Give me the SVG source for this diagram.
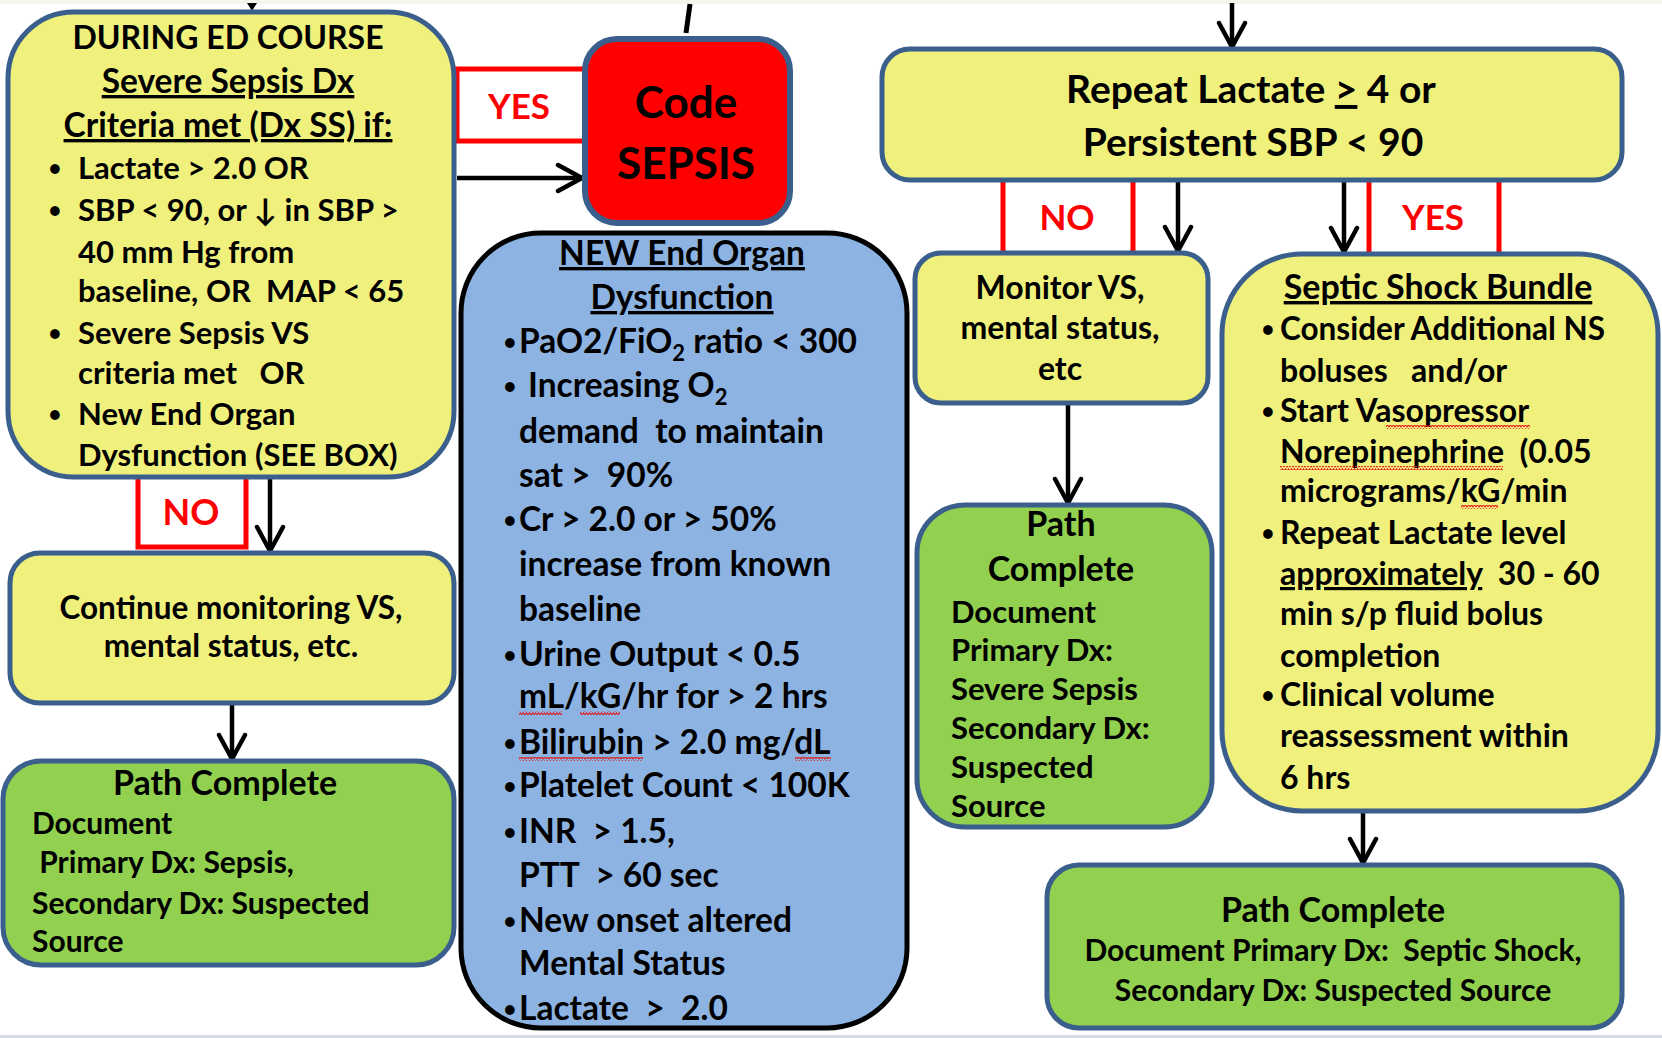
<svg xmlns="http://www.w3.org/2000/svg" width="1662" height="1038" viewBox="0 0 1662 1038" xml:space="preserve">
<defs>
<style>
.y{fill:#f0f17d;stroke:#3a5f8c;stroke-width:5}
.g{fill:#92d050;stroke:#3a5f8c;stroke-width:5}
.b{fill:#8db3e2;stroke:#000;stroke-width:5}
.r{fill:#ff0000;stroke:#3a5f8c;stroke-width:6}
.t{font-family:Lato,"Open Sans","Liberation Sans",sans-serif;font-weight:700;font-size:31px;fill:#000;white-space:pre}
.m{text-anchor:middle}
.u{text-decoration:underline}
.bl{font-size:22px;text-anchor:middle}
.lbl{font-family:Lato,"Open Sans","Liberation Sans",sans-serif;font-weight:700;font-size:35px;fill:#ff0000;text-anchor:middle}
.red{stroke:#ff0000;stroke-width:5;fill:none}
.ar{stroke:#000;stroke-width:4.5;fill:none;marker-end:url(#ah)}
.wv{fill:url(#wave)}
.f33{font-size:33.5px}
.f32{font-size:32px}
.f30{font-size:30px}
.f34{font-size:34px}
</style>
<marker id="ah" markerUnits="userSpaceOnUse" viewBox="0 0 30 32" refX="27" refY="16" markerWidth="30" markerHeight="32" orient="auto">
<path d="M3,3 L27,16 L3,29" fill="none" stroke="#000" stroke-width="4.5" stroke-linecap="round" stroke-linejoin="round"/>
</marker>
<pattern id="wave" patternUnits="userSpaceOnUse" width="6" height="4">
<path d="M0,3 L1.5,0.8 L3,3 L4.5,0.8 L6,3" fill="none" stroke="#e02020" stroke-width="1.1"/>
</pattern>
</defs>
<rect x="0" y="0" width="1662" height="1038" fill="#ffffff"/>
<rect x="0" y="0" width="1662" height="4" fill="#f3f8ee"/>
<rect x="0" y="1035" width="1662" height="3" fill="#d3dce8"/>

<g id="connectors">
<path d="M247,3 L257,3 L252,11 Z" fill="#000"/>
<line x1="690" y1="4" x2="686" y2="33" stroke="#000" stroke-width="5"/>
<rect x="457" y="69" width="135" height="72" class="red" fill="#fff"/>
<line x1="457" y1="178" x2="582" y2="178" class="ar"/>
<path d="M138,477 V547 H246 V477" class="red"/>
<line x1="270" y1="477" x2="270" y2="551" class="ar"/>
<line x1="232" y1="703" x2="232" y2="759" class="ar"/>
<line x1="1232" y1="3" x2="1232" y2="47" class="ar"/>
<line x1="1003" y1="180" x2="1003" y2="253" class="red"/>
<line x1="1133" y1="180" x2="1133" y2="253" class="red"/>
<line x1="1178" y1="180" x2="1178" y2="251" class="ar"/>
<line x1="1344" y1="180" x2="1344" y2="252" class="ar"/>
<line x1="1369" y1="180" x2="1369" y2="254" class="red"/>
<line x1="1499" y1="180" x2="1499" y2="254" class="red"/>
<line x1="1068" y1="403" x2="1068" y2="503" class="ar"/>
<line x1="1363" y1="811" x2="1363" y2="863" class="ar"/>
<text class="lbl" x="519" y="119">YES</text>
<text class="lbl" x="191" y="525" style="font-size:36px">NO</text>
<text class="lbl" x="1067" y="230">NO</text>
<text class="lbl" x="1433" y="230">YES</text>
</g>

<g id="during-ed">
<rect x="8" y="12" width="446" height="465" rx="66" class="y"/>
<text class="t m f32" x="228" y="49">DURING ED COURSE</text>
<text class="t m u f33" x="228" y="93">Severe Sepsis Dx</text>
<text class="t m u f33" x="228" y="137">Criteria met (Dx SS) if:</text>
<text class="t bl" x="55" y="176">•</text><text class="t" x="78" y="179">Lactate &gt; 2.0 OR</text>
<text class="t bl" x="55" y="218">•</text><text class="t" x="78" y="221">SBP &lt; 90, or ↓ in SBP &gt;</text>
<text class="t" x="78" y="263">40 mm Hg from</text>
<text class="t" x="78" y="302">baseline, OR  MAP &lt; 65</text>
<text class="t bl" x="55" y="341">•</text><text class="t" x="78" y="344">Severe Sepsis VS</text>
<text class="t" x="78" y="384">criteria met   OR</text>
<text class="t bl" x="55" y="422">•</text><text class="t" x="78" y="425">New End Organ</text>
<text class="t" x="78" y="466">Dysfunction (SEE BOX)</text>
</g>

<g id="code-sepsis">
<rect x="585" y="39" width="205" height="184" rx="32" class="r"/>
<text class="t m" x="686" y="118" style="font-size:44px">Code</text>
<text class="t m" x="686" y="179" style="font-size:44px">SEPSIS</text>
</g>

<g id="end-organ">
<rect x="461" y="233" width="446" height="795" rx="80" class="b"/>
<text class="t m u f33" x="682" y="265">NEW End Organ</text>
<text class="t m u f33" x="682" y="309">Dysfunction</text>
<text class="t bl" x="510" y="350">•</text><text class="t f33" x="519" y="353">PaO2/FiO<tspan dy="8" style="font-size:22px">2</tspan><tspan dy="-8"> ratio &lt; 300</tspan></text>
<text class="t bl" x="510" y="394">•</text><text class="t f33" x="528" y="397">Increasing O<tspan dy="8" style="font-size:22px">2</tspan></text>
<text class="t f33" x="519" y="443">demand  to maintain</text>
<text class="t f33" x="519" y="487">sat &gt;  90%</text>
<text class="t bl" x="510" y="528">•</text><text class="t f33" x="519" y="531">Cr &gt; 2.0 or &gt; 50%</text>
<text class="t f33" x="519" y="576">increase from known</text>
<text class="t f33" x="519" y="621">baseline</text>
<text class="t bl" x="510" y="663">•</text><text class="t f33" x="519" y="666">Urine Output &lt; 0.5</text>
<text class="t f33" x="519" y="708">mL/kG/hr for &gt; 2 hrs</text>
<text class="t bl" x="510" y="751">•</text><text class="t f33" x="519" y="754">Bilirubin &gt; 2.0 mg/dL</text>
<text class="t bl" x="510" y="794">•</text><text class="t f33" x="519" y="797">Platelet Count &lt; 100K</text>
<text class="t bl" x="510" y="840">•</text><text class="t f33" x="519" y="843">INR  &gt; 1.5,</text>
<text class="t f33" x="519" y="887">PTT  &gt; 60 sec</text>
<text class="t bl" x="510" y="929">•</text><text class="t f33" x="519" y="932">New onset altered</text>
<text class="t f33" x="519" y="975">Mental Status</text>
<text class="t bl" x="510" y="1017">•</text><text class="t f33" x="519" y="1020">Lactate  &gt;  2.0</text>
<rect class="wv" x="519" y="711" width="43" height="4"/>
<rect class="wv" x="580" y="711" width="40" height="4"/>
<rect class="wv" x="519" y="757" width="124" height="4"/>
<rect class="wv" x="795" y="757" width="36" height="4"/>
</g>

<g id="continue-monitoring">
<rect x="10" y="553" width="444" height="150" rx="30" class="y"/>
<text class="t m" x="231" y="619" style="font-size:31.5px">Continue monitoring VS,</text>
<text class="t m" x="231" y="657" style="font-size:31.5px">mental status, etc.</text>
</g>

<g id="path-complete-left">
<rect x="3" y="761" width="451" height="204" rx="38" class="g"/>
<text class="t m f34" x="225" y="795">Path Complete</text>
<text class="t f30" x="32" y="834">Document</text>
<text class="t f30" x="32" y="873"> Primary Dx: Sepsis,</text>
<text class="t f30" x="32" y="914">Secondary Dx: Suspected</text>
<text class="t f30" x="32" y="952">Source</text>
</g>

<g id="repeat-lactate">
<rect x="882" y="49" width="740" height="131" rx="28" class="y"/>
<text class="t m" x="1251" y="103" style="font-size:39px">Repeat Lactate <tspan class="u">&gt;</tspan> 4 or</text>
<text class="t m" x="1253" y="156" style="font-size:39px">Persistent SBP &lt; 90</text>
</g>

<g id="monitor-vs">
<rect x="915" y="253" width="293" height="150" rx="26" class="y"/>
<text class="t m f32" x="1060" y="299">Monitor VS,</text>
<text class="t m f32" x="1060" y="339">mental status,</text>
<text class="t m f32" x="1060" y="380">etc</text>
</g>

<g id="path-complete-mid">
<rect x="917" y="505" width="295" height="322" rx="48" class="g"/>
<text class="t m f34" x="1061" y="536">Path</text>
<text class="t m f34" x="1061" y="581">Complete</text>
<text class="t" x="951" y="623">Document</text>
<text class="t" x="951" y="661">Primary Dx:</text>
<text class="t" x="951" y="700">Severe Sepsis</text>
<text class="t" x="951" y="739">Secondary Dx:</text>
<text class="t" x="951" y="778">Suspected</text>
<text class="t" x="951" y="817">Source</text>
</g>

<g id="septic-shock-bundle">
<rect x="1222" y="254" width="436" height="557" rx="80" class="y"/>
<text class="t m u f34" x="1438" y="299">Septic Shock Bundle</text>
<text class="t bl" x="1268" y="337">•</text><text class="t" x="1280" y="340" style="font-size:31.5px">Consider Additional NS</text>
<text class="t f32" x="1280" y="382">boluses   and/or</text>
<text class="t bl" x="1268" y="419">•</text><text class="t f32" x="1280" y="422">Start Vasopressor</text>
<text class="t f32" x="1280" y="463">Norepinephrine  (0.05</text>
<text class="t f32" x="1280" y="502">micrograms/kG/min</text>
<text class="t bl" x="1268" y="541">•</text><text class="t f32" x="1280" y="544">Repeat Lactate level</text>
<text class="t f32" x="1280" y="585"><tspan class="u">approximately</tspan>  30 - 60</text>
<text class="t f32" x="1280" y="625">min s/p fluid bolus</text>
<text class="t f32" x="1280" y="667">completion</text>
<text class="t bl" x="1268" y="703">•</text><text class="t f32" x="1280" y="706">Clinical volume</text>
<text class="t f32" x="1280" y="747">reassessment within</text>
<text class="t f32" x="1280" y="789">6 hrs</text>
<rect class="wv" x="1386" y="425" width="144" height="4"/>
<rect class="wv" x="1280" y="466" width="223" height="4"/>
<rect class="wv" x="1461" y="505" width="37" height="4"/>
</g>

<g id="path-complete-right">
<rect x="1047" y="865" width="575" height="163" rx="32" class="g"/>
<text class="t m f34" x="1333" y="922">Path Complete</text>
<text class="t m f30" x="1333" y="961">Document Primary Dx:  Septic Shock,</text>
<text class="t m f30" x="1333" y="1001">Secondary Dx: Suspected Source</text>
</g>
</svg>
